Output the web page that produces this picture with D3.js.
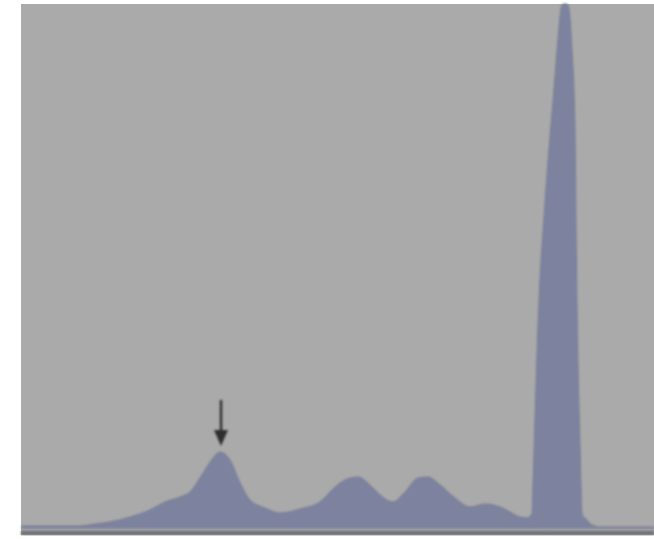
<!DOCTYPE html>
<html>
  <head>
    <script src="https://cdnjs.cloudflare.com/ajax/libs/d3/7.8.5/d3.min.js"></script>
    <style>
      body { margin: 0; background: #fff; }
    </style>
  </head>
  <body>
    <div id="vis"></div>
    <script type="text/javascript">

        // intensity level (0-255)
        const levels = [
          0, 11.3, 23.4, 29.5, 35.5, 43.6, 51.6, 57.7, 63.8, 67.8,
          71.8, 75.9, 79.9, 83.9, 88.0, 92.0, 98.0, 104.1, 112.2, 120.2,
          126.3, 130.3, 135.6, 140.4, 144.5, 149.7, 154.5, 159.8, 163.8, 168.7,
          174.7, 180.8, 186.8, 192.9, 196.9, 200.9, 204.2, 205.0, 205.8, 206.2,
          206.6, 208.6, 210.6, 212.6, 214.3, 215.9, 217.9, 219.1, 220.3, 221.9,
          223.1, 223.9, 225.2, 226.0, 227.2, 230.0, 233.2, 255
        ];

        // pixel counts (arbitrary units)
        const counts = [
          2, 2, 2, 4, 6, 11, 18, 26, 31, 36,
          50, 66, 76, 68, 45, 28, 20, 15, 19, 26,
          41, 48, 51, 43, 33, 26, 36, 50, 51, 43,
          30, 21, 24, 21, 16, 11, 10, 12, 14, 45,
          78, 228, 310, 378, 428, 478, 523, 524, 523, 478,
          400, 228, 78, 13, 10, 3, 1, 1
        ];

        // the peak marked with the arrow
        const markedLevel = 79.9;

        const width = 654, height = 539;
        const panel = {left: 21, top: 4, right: 654, bottom: 535};
        const baseY = 528;

        const svg = d3.select("#vis")
            .append("svg")
            .attr("width", width)
            .attr("height", height);

        const data = levels.map((l, i) => ({level: l, count: counts[i]}));

        const x = d3.scaleLinear()
            .domain([0, 255])
            .range([panel.left + 1, panel.right]);

        const y = d3.scaleLinear()
            .domain([0, d3.max(counts)])
            .range([baseY, panel.top]);

        const defs = svg.append("defs");
        defs.append("filter")
            .attr("id", "soft")
            .append("feGaussianBlur")
            .attr("stdDeviation", 0.8);

        // grey panel
        svg.append("rect")
            .attr("x", panel.left)
            .attr("y", panel.top)
            .attr("width", panel.right - panel.left)
            .attr("height", panel.bottom - panel.top)
            .attr("fill", "#aaaaaa");

        // bottom strip + dark base line
        svg.append("rect")
            .attr("x", panel.left)
            .attr("y", baseY)
            .attr("width", panel.right - panel.left)
            .attr("height", 3)
            .attr("fill", "#a3a4a8");
        svg.append("rect")
            .attr("x", panel.left)
            .attr("y", baseY + 3)
            .attr("width", panel.right - panel.left)
            .attr("height", 4)
            .attr("fill", "#6e6f73")
            .attr("filter", "url(#soft)");

        const area = d3.area()
            .x(d => x(d.level))
            .y0(baseY)
            .y1(d => y(d.count))
            .curve(d3.curveMonotoneX);

        svg.append("path")
            .datum(data)
            .attr("d", area)
            .attr("fill", "#7d839f")
            .attr("stroke", "#767b95")
            .attr("stroke-width", 1)
            .attr("filter", "url(#soft)");

        // arrow pointing at the marked peak
        const peak = data.find(d => d.level === markedLevel);
        const ax = x(peak.level) + 1;
        const tipY = y(peak.count) - 6;
        const arrow = svg.append("g")
            .attr("fill", "#2f2f2f")
            .attr("stroke", "#2f2f2f")
            .attr("filter", "url(#soft)");
        arrow.append("line")
            .attr("x1", ax).attr("x2", ax)
            .attr("y1", tipY - 46).attr("y2", tipY - 12)
            .attr("stroke-width", 2.5);
        arrow.append("path")
            .attr("stroke", "none")
            .attr("d", `M${ax - 7},${tipY - 16} L${ax + 7},${tipY - 16} L${ax},${tipY} Z`);

    </script>
  </body>
</html>
